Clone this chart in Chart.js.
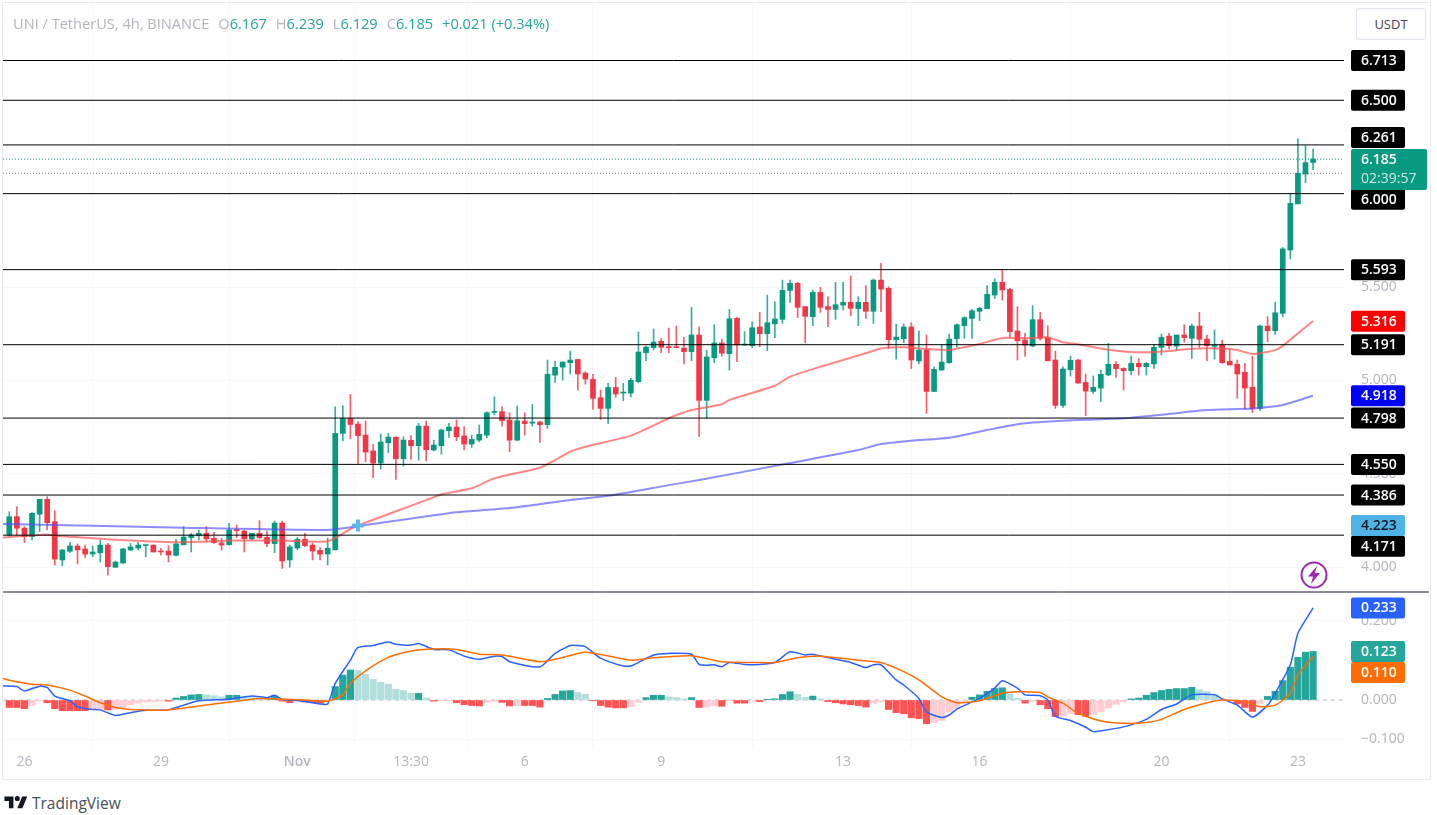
<!DOCTYPE html>
<html lang="en">
<head>
<meta charset="UTF-8">
<title>UNI / TetherUS</title>
<script src="https://cdn.jsdelivr.net/npm/chart.js@4"></script>
<style>
    html, body { margin: 0; padding: 0; background: #fff; }
    body { width: 1437px; height: 815px; overflow: hidden; position: relative; font-family: "Open Sans", sans-serif; }
    canvas { position: absolute; left: 0; }
    #frame { position: absolute; left: 2px; top: 2px; width: 1429px; height: 778px; border: 1px solid #e8eaf2; box-sizing: border-box; }
    #divider { position: absolute; left: 3px; top: 591px; width: 1426px; height: 2px; background: #8a8d96; }
    #legend { position: absolute; left: 13px; top: 13px; font-size: 14.6px; line-height: 20px; color: #b2b5be; white-space: nowrap; }
    #legend b { font-weight: 400; color: #26a69a; }
    #legend span { margin-left: 9px; }
    #currency { position: absolute; left: 1356px; top: 8px; width: 70px; height: 32px; line-height: 30px; box-sizing: border-box;
        border: 1px solid #e0e3eb; border-radius: 4px; text-align: center; font-size: 13px; color: #434651; background: #fff; }
    #bolt { position: absolute; left: 1300px; top: 561px; }
    #logo { position: absolute; left: 3px; top: 794px; }
    #brand { position: absolute; left: 32px; top: 792px; font-size: 15.5px; line-height: 22px; color: #4a4e59; }
</style>
</head>
<body>
<div id="frame"></div>
<canvas id="priceChart" width="1437" height="592" style="top:0"></canvas>
<canvas id="macdChart" width="1437" height="188" style="top:592px"></canvas>
<div id="divider"></div>
<div id="legend">UNI / TetherUS, 4h, BINANCE<span>O<b>6.167</b></span><span>H<b>6.239</b></span><span>L<b>6.129</b></span><span>C<b>6.185</b></span><span><b>+0.021 (+0.34%)</b></span></div>
<div id="currency">USDT</div>
<svg id="bolt" width="28" height="28" viewBox="0 0 28 28"><circle cx="14" cy="14" r="12.5" fill="#fff" stroke="#9c27b0" stroke-width="2"/><path d="M17 5 8 15.5h5l-2 7.5 9-11h-5z" fill="#9c27b0"/></svg>
<svg id="logo" width="26" height="18" viewBox="0 0 36 28"><path d="M14 22H7V11H0V4h14v18zM28 22h-8l7.5-18h8L28 22z" fill="#131722"/><circle cx="20" cy="7" r="4" fill="#131722"/></svg>
<div id="brand">TradingView</div>

<script>
// 4h candles, bar 0 is the leftmost full candle
const opens = [
    4.172,4.270,4.209,4.163,4.283,4.363,4.243,4.038,4.085,4.113,4.097,4.070,4.077,4.118,3.999,4.022,4.092,4.102,4.115,4.118,4.085,4.086,
    4.063,4.120,4.158,4.168,4.181,4.154,4.129,4.120,4.201,4.193,4.151,4.181,4.159,4.126,4.236,4.038,4.102,4.149,4.118,4.090,4.070,4.092,
    4.716,4.796,4.766,4.707,4.622,4.557,4.666,4.696,4.580,4.679,4.650,4.755,4.627,4.650,4.730,4.750,4.702,4.659,4.680,4.707,4.829,4.832,
    4.788,4.680,4.782,4.771,4.777,4.763,5.028,5.071,5.095,5.112,5.039,5.005,4.907,4.850,4.962,4.932,4.932,4.993,5.148,5.175,5.209,
    5.179,5.179,5.173,5.154,5.243,4.893,5.121,5.200,5.143,5.332,5.189,5.186,5.286,5.250,5.303,5.327,5.482,5.520,5.395,5.341,5.471,5.395,
    5.380,5.403,5.418,5.384,5.418,5.370,5.537,5.493,5.218,5.223,5.286,5.104,5.162,4.941,5.055,5.095,5.223,5.293,
    5.332,5.370,5.384,5.457,5.525,5.487,5.264,5.216,5.184,5.325,5.230,5.109,4.866,5.057,5.109,4.989,4.941,4.959,5.029,5.086,5.064,5.052,
    5.091,5.073,5.088,5.177,5.237,5.184,5.243,5.225,5.291,5.221,5.182,5.188,5.102,5.086,5.043,4.963,4.850,5.291,5.266,5.359,5.698,5.945,6.105,6.167
];
const highs = [
    4.297,4.324,4.217,4.292,4.363,4.377,4.302,4.095,4.133,4.124,4.118,4.113,4.145,4.127,4.033,4.101,4.127,4.133,4.118,4.118,4.101,4.115,
    4.149,4.217,4.181,4.199,4.217,4.186,4.154,4.234,4.226,4.199,4.181,4.249,4.193,4.247,4.247,4.118,4.158,4.181,4.127,4.104,4.154,4.859,
    4.864,4.925,4.779,4.782,4.657,4.713,4.716,4.698,4.698,4.704,4.770,4.782,4.680,4.739,4.770,4.788,4.752,4.707,4.761,4.832,4.912,4.859,
    4.827,4.864,4.827,4.871,4.782,5.109,5.103,5.100,5.157,5.112,5.046,5.032,4.948,4.984,5.016,4.984,5.011,5.259,5.184,5.275,5.225,
    5.280,5.291,5.230,5.391,5.287,5.162,5.298,5.220,5.380,5.337,5.261,5.314,5.364,5.457,5.421,5.537,5.537,5.525,5.395,5.484,5.498,5.448,
    5.525,5.525,5.559,5.448,5.507,5.543,5.627,5.502,5.302,5.302,5.309,5.264,5.243,5.073,5.193,5.248,5.302,5.341,
    5.380,5.391,5.507,5.543,5.594,5.493,5.395,5.252,5.400,5.364,5.293,5.157,5.073,5.130,5.113,5.034,5.023,5.055,5.198,5.100,5.068,5.130,
    5.118,5.096,5.193,5.248,5.252,5.243,5.298,5.302,5.364,5.243,5.270,5.216,5.163,5.109,5.091,5.130,5.296,5.341,5.418,5.712,6.002,6.293,6.257,6.239
];
const lows = [
    4.167,4.172,4.131,4.145,4.190,4.199,4.011,4.006,4.077,4.017,4.052,4.056,4.027,3.958,3.999,4.020,4.088,4.092,4.056,4.081,4.065,4.027,
    4.060,4.118,4.081,4.145,4.136,4.127,4.092,4.118,4.158,4.081,4.145,4.154,4.110,4.077,3.993,3.999,4.092,4.110,4.038,4.038,4.011,4.092,
    4.677,4.688,4.552,4.564,4.479,4.525,4.613,4.470,4.541,4.577,4.573,4.568,4.622,4.605,4.695,4.677,4.627,4.641,4.671,4.693,4.814,4.755,
    4.618,4.677,4.707,4.755,4.666,4.743,4.989,5.002,5.034,4.948,4.980,4.845,4.791,4.770,4.909,4.891,4.912,4.987,5.105,5.162,5.148,
    5.148,5.175,5.088,5.105,4.698,4.797,5.095,5.130,5.055,5.100,5.189,5.175,5.180,5.159,5.229,5.305,5.418,5.336,5.202,5.293,5.364,5.287,
    5.327,5.377,5.346,5.293,5.332,5.305,5.368,5.171,5.114,5.202,5.063,5.088,4.823,4.939,5.055,5.091,5.177,5.225,
    5.225,5.320,5.384,5.439,5.430,5.230,5.109,5.130,5.180,5.216,5.105,4.850,4.855,5.023,4.984,4.811,4.930,4.886,5.025,5.016,4.948,5.029,
    5.029,5.029,5.064,5.136,5.168,5.159,5.205,5.118,5.177,5.105,5.114,5.091,5.082,4.904,4.845,4.827,4.838,5.207,5.246,5.341,5.650,5.945,6.059,6.129
];
const closes = [
    4.270,4.208,4.163,4.288,4.363,4.238,4.043,4.092,4.113,4.092,4.070,4.081,4.118,4.002,4.027,4.097,4.108,4.118,4.118,4.081,4.081,4.065,
    4.124,4.161,4.172,4.181,4.151,4.131,4.118,4.199,4.195,4.152,4.181,4.158,4.126,4.236,4.033,4.108,4.149,4.115,4.086,4.070,4.101,4.716,
    4.796,4.764,4.704,4.616,4.557,4.670,4.696,4.580,4.680,4.650,4.755,4.629,4.654,4.734,4.750,4.698,4.659,4.684,4.711,4.827,4.832,4.784,
    4.680,4.784,4.768,4.775,4.763,5.032,5.070,5.098,5.109,5.034,5.007,4.904,4.850,4.962,4.927,4.936,5.000,5.152,5.178,5.205,5.177,
    5.175,5.175,5.154,5.243,4.893,5.125,5.200,5.146,5.330,5.189,5.193,5.282,5.250,5.309,5.329,5.482,5.520,5.391,5.343,5.471,5.391,5.380,
    5.405,5.418,5.386,5.418,5.370,5.537,5.489,5.218,5.232,5.286,5.109,5.162,4.941,5.059,5.098,5.221,5.298,5.336,
    5.373,5.386,5.461,5.525,5.484,5.261,5.212,5.189,5.325,5.225,5.105,4.866,5.061,5.107,4.986,4.943,4.963,5.032,5.086,5.063,5.052,5.091,
    5.073,5.091,5.177,5.230,5.186,5.243,5.229,5.291,5.220,5.186,5.186,5.095,5.082,5.034,4.959,4.848,5.291,5.266,5.362,5.704,5.948,6.109,6.166,6.185
];

// moving averages, read at the bars where the line visibly bends
const ma50Bars = [-1,5,6,13,22,30,36,42,45,46,55,57,61,64,70,72,74,76,82,87,90,94,95,101,103,107,113,115,118,121,124,125,128,131,134,137,139,141,144,147,150,153,156,160,162,164,167,168,170,172];
const ma50Values = [4.158,4.175,4.168,4.149,4.133,4.142,4.142,4.138,4.204,4.223,4.359,4.389,4.422,4.475,4.532,4.573,4.618,4.645,4.704,4.797,4.841,4.872,4.895,4.971,5.020,5.073,5.145,5.171,5.177,5.168,5.162,5.170,5.195,5.227,5.225,5.230,5.204,5.193,5.171,5.155,5.150,5.157,5.170,5.171,5.163,5.141,5.162,5.185,5.252,5.318];
const ma200Bars = [-1,23,42,45,58,66,74,79,87,91,103,112,115,119,124,129,134,143,147,153,158,164,168,172];
const ma200Values = [4.231,4.211,4.199,4.213,4.289,4.316,4.359,4.382,4.439,4.466,4.557,4.627,4.659,4.677,4.693,4.734,4.770,4.791,4.797,4.820,4.841,4.850,4.868,4.918];
const crossBar = 46;
const crossValue = 4.223;

// horizontal levels and last values
const levelValues = [6.713,6.5,6.261,6.0,5.593,5.191,4.798,4.55,4.386,4.171];
const lastPrice = 6.185;
const prevClose = 6.109;
const ma50Last = 5.316;
const ma200Last = 4.918;
const priceTicks = [6.5,6.0,5.5,5.0,4.5,4.0];

// MACD pane
const histogram = [
    -.019,-.019,-.022,-.014,-.003,-.007,-.022,-.027,-.027,-.027,-.027,-.024,-.023,-.025,-.024,-.019,-.012,-.008,-.005,-.004,-.003,-.003,
    .005,.009,.013,.014,.013,.011,.008,.012,.012,.007,.006,.005,.004,.010,-.003,-.007,-.003,-.005,-.007,-.008,-.003,
    .034,.063,.076,.075,.065,.052,.045,.040,.027,.024,.017,.017,.005,-.003,-.002,-.001,-.007,-.012,-.014,
    -.015,-.006,-.003,-.006,-.015,-.014,-.014,-.014,-.018,.004,.014,.023,.024,.019,.014,-.002,-.014,-.018,-.020,-.020,-.017,-.006,
    .006,.012,.012,.008,.006,.003,.006,-.019,-.018,-.015,-.016,-.002,-.008,-.008,-.003,-.004,.002,.003,.014,.021,.014,.007,.010,.003,
    -.004,-.007,-.010,-.012,-.014,-.018,-.008,-.005,-.024,-.032,-.035,-.045,-.047,-.060,-.057,-.052,-.030,-.021,-.003,
    .007,.013,.022,.029,.031,.016,.004,-.008,-.003,-.012,-.022,-.042,-.041,-.034,-.037,-.041,-.038,-.030,-.020,-.011,-.005,
    .003,.005,.012,.019,.024,.027,.029,.029,.032,.026,.021,.010,.003,-.002,-.010,-.019,-.029,-.010,.009,.022,.049,.083,.108,.121,.123
];
const macdBars = [-1,1,2,4,5,6,8,9,11,12,14,16,18,21,23,25,29,32,34,35,36,38,41,42,43,45,46,48,50,51,53,54,56,58,60,62,64,65,66,70,72,74,75,76,78,81,82,85,87,90,91,92,93,94,95,97,99,101,103,105,106,109,111,113,114,115,117,118,120,121,123,124,125,128,130,131,133,134,136,137,138,140,142,143,144,147,150,152,154,156,159,160,162,164,166,167,169,170,172];
const macdValues = [.036,.034,.023,.035,.032,.010,-.002,-.017,-.024,-.025,-.039,-.032,-.026,-.025,-.013,-.002,.002,.010,.006,.012,.002,-.001,-.010,-.010,.042,.101,.133,.138,.147,.141,.139,.143,.128,.127,.111,.103,.111,.110,.097,.084,.118,.138,.138,.135,.106,.086,.086,.114,.118,.116,.090,.088,.089,.084,.095,.090,.090,.095,.122,.114,.116,.103,.095,.082,.089,.089,.051,.038,.004,-.030,-.044,-.038,-.023,.004,.030,.049,.030,.013,.011,0,-.041,-.052,-.069,-.080,-.078,-.068,-.049,-.024,-.010,.013,.013,.003,-.013,-.043,-.013,.017,.089,.169,.233];
const signalBars = [-1,1,3,5,8,10,12,14,16,21,25,30,33,36,39,42,44,45,47,50,53,56,59,62,65,70,72,76,82,85,90,94,99,101,104,107,113,115,118,120,123,125,128,131,133,136,137,139,141,144,147,150,152,155,158,160,163,165,167,169,170,172];
const signalValues = [.055,.046,.040,.038,.025,.010,-.007,-.019,-.024,-.025,-.015,-.003,.004,.002,0,-.003,.013,.042,.074,.108,.124,.129,.128,.116,.114,.097,.103,.121,.101,.107,.112,.097,.095,.095,.107,.111,.099,.095,.072,.051,.008,-.007,-.002,.017,.021,.019,.008,-.008,-.034,-.053,-.059,-.057,-.049,-.024,-.007,0,-.004,-.017,-.013,.017,.063,.110];
const macdTicks = [.2,0,-.1];
const macdLast = .233;
const histLast = .123;
const signalLast = .110;

// time axis
const timeTickBars = [2,20,38,53,68,86,110,128,152,170];
const timeTickLabels = ['26','29','Nov','13:30','6','9','13','16','20','23'];

// colours and small layout numbers
const UP = '#089981', DOWN = '#f23645';
const GREY = '#b2b5be';
const FONT = '"Open Sans", sans-serif';
const xMin = -0.831, xMax = 176.08;     // left / right edge of the panes in bars
const AXIS_W = 93;

function barPairs(lo, hi) {
    return lo.map((v, i) => ({x: i, y: [v, hi[i]]}));
}
function xyPairs(xs, ys) {
    return xs.map((x, i) => ({x: x, y: ys[i]}));
}
function flatLine(v) {
    return [{x: xMin, y: v}, {x: xMax, y: v}];
}
// chart.js reserves room for half a tick label at the ends, the panes here go edge to edge
function noScalePadding(scale) {
    scale.paddingLeft = scale.paddingRight = scale.paddingTop = scale.paddingBottom = 0;
}

const candleColors = closes.map((c, i) => c >= opens[i] ? UP : DOWN);
const wickColors = closes.map((c, i) => c >= opens[i] ? 'rgba(8,153,129,.8)' : 'rgba(242,54,69,.8)');
const bodyLow = opens.map((o, i) => Math.min(o, closes[i]));
const bodyHigh = opens.map((o, i) => Math.max(o, closes[i]));

const histColors = histogram.map((v, i) => {
    const prev = i > 0 ? histogram[i - 1] : v;
    if (v >= 0) return v >= prev ? '#26a69a' : '#b2dfdb';
    return v <= prev ? '#ff5252' : '#ffcdd2';
});

// right hand price tags, drawn over the tick labels
function tagPlugin(tags, yScaleId) {
    return {
        id: 'tags',
        afterDraw(chart) {
            const ctx = chart.ctx, scale = chart.scales[yScaleId];
            ctx.save();
            ctx.textBaseline = 'middle';
            tags.forEach(t => {
                const y = scale.getPixelForValue(t.value) + (t.shift || 0);
                const h = t.sub ? 41 : 21, w = t.sub ? 76 : 54;
                const top = t.sub ? y - 10 : y - h / 2;
                ctx.fillStyle = t.bg;
                ctx.beginPath();
                ctx.roundRect(1351, top, w, h, 2);
                ctx.fill();
                ctx.fillStyle = t.fg || '#fff';
                ctx.font = '600 14px ' + FONT;
                ctx.fillText(t.value.toFixed(3), 1361, t.sub ? top + 11 : y + 0.5);
                if (t.sub) {
                    ctx.font = '14px ' + FONT;
                    ctx.fillStyle = 'rgba(255,255,255,.8)';
                    ctx.fillText(t.sub, 1361, top + 30);
                }
            });
            ctx.restore();
        }
    };
}

function candleDatasets() {
    const sets = [];
    levelValues.forEach(v => {
        sets.push({type: 'line', data: flatLine(v), borderColor: '#000', borderWidth: 1, pointRadius: 0, order: 1});
    });
    sets.push({type: 'line', data: flatLine(lastPrice), borderColor: UP, borderWidth: 1, borderDash: [1, 2], pointRadius: 0, order: 6});
    sets.push({type: 'line', data: flatLine(prevClose), borderColor: '#787b86', borderWidth: 1, borderDash: [1, 2], pointRadius: 0, order: 6});
    sets.push({type: 'line', data: xyPairs(ma200Bars, ma200Values), borderColor: 'rgba(80,80,255,.65)', borderWidth: 2, pointRadius: 0, tension: 0.2, order: 2});
    sets.push({type: 'line', data: xyPairs(ma50Bars, ma50Values), borderColor: 'rgba(255,82,82,.7)', borderWidth: 2, pointRadius: 0, tension: 0.2, order: 2});
    sets.push({type: 'line', data: [{x: crossBar, y: crossValue}], showLine: false, pointStyle: 'cross', pointRadius: 6, pointBorderWidth: 4,
        pointBorderColor: '#5fb8ea', order: 0});
    sets.push({type: 'bar', data: barPairs(lows, highs), backgroundColor: wickColors, barThickness: 1, grouped: false, order: 5});
    sets.push({type: 'bar', data: barPairs(bodyLow, bodyHigh), backgroundColor: candleColors, barThickness: 5, minBarLength: 1, grouped: false, order: 4});
    return sets;
}

const baseOptions = {
    responsive: false,
    animation: false,
    events: [],
    plugins: {legend: {display: false}, tooltip: {enabled: false}}
};

new Chart(document.getElementById('priceChart'), {
    type: 'bar',
    data: {datasets: candleDatasets()},
    plugins: [tagPlugin([
        {value: 6.713}, {value: 6.5}, {value: 6.261, shift: -7.5}, {value: 6.0, shift: 5.5}, {value: 5.593},
        {value: 5.191}, {value: 4.798}, {value: 4.55}, {value: 4.386}, {value: 4.171, shift: 11},
        {value: lastPrice, bg: UP, sub: '02:39:57'},
        {value: ma50Last, bg: '#ff0000'},
        {value: ma200Last, bg: '#0000ff'},
        {value: crossValue, bg: '#4fb3e8', fg: '#131722'}
    ].map(t => Object.assign({bg: '#000'}, t)), 'y')],
    options: Object.assign({}, baseOptions, {
        layout: {autoPadding: false, padding: {left: 3, top: 3, right: 0, bottom: 1}},
        scales: {
            x: {
                type: 'linear', min: xMin, max: xMax, offset: false,
                afterBuildTicks(scale) { scale.ticks = timeTickBars.map(v => ({value: v})); },
                afterFit(scale) { scale.height = 0; noScalePadding(scale); },
                ticks: {display: false},
                grid: {color: '#f7f8fb', drawTicks: false},
                border: {display: false}
            },
            y: {
                position: 'right', min: 3.872, max: 7.021,
                afterBuildTicks(scale) { scale.ticks = priceTicks.map(v => ({value: v})); },
                afterFit(scale) { scale.width = AXIS_W; noScalePadding(scale); },
                ticks: {color: GREY, font: {family: FONT, size: 14}, padding: 17, callback: v => v.toFixed(3)},
                grid: {color: '#f7f8fb', drawTicks: false},
                border: {display: false}
            }
        }
    })
});

new Chart(document.getElementById('macdChart'), {
    type: 'bar',
    data: {datasets: [
        {type: 'line', data: xyPairs(macdBars, macdValues), borderColor: '#2962ff', borderWidth: 1.5, pointRadius: 0, tension: 0.2, order: 1},
        {type: 'line', data: xyPairs(signalBars, signalValues), borderColor: '#ff6d00', borderWidth: 1.5, pointRadius: 0, tension: 0.2, order: 0},
        {type: 'line', data: flatLine(0), borderColor: 'rgba(120,123,134,.5)', borderWidth: 1, borderDash: [4, 4], pointRadius: 0, order: 3},
        {type: 'bar', data: histogram.map((v, i) => ({x: i, y: v})), backgroundColor: histColors, barThickness: 6.5, grouped: false, order: 2}
    ]},
    plugins: [tagPlugin([
        {value: macdLast, bg: '#2962ff'},
        {value: histLast, bg: '#26a69a'},
        {value: signalLast, bg: '#ff6d00', shift: 16}
    ], 'y')],
    options: Object.assign({}, baseOptions, {
        layout: {autoPadding: false, padding: {left: 3, top: 0, right: 0, bottom: 0}},
        scales: {
            x: {
                type: 'linear', min: xMin, max: xMax, offset: false,
                afterBuildTicks(scale) { scale.ticks = timeTickBars.map(v => ({value: v})); },
                afterFit(scale) { scale.height = 32; noScalePadding(scale); },
                ticks: {
                    color: GREY, autoSkip: false, maxRotation: 0, padding: 6,
                    font: ctx => ({family: FONT, size: 14, weight: ctx.tick && ctx.tick.value === 38 ? '600' : '400'}),
                    callback: v => timeTickLabels[timeTickBars.indexOf(v)]
                },
                grid: {color: '#f7f8fb', drawTicks: false},
                border: {display: false}
            },
            y: {
                position: 'right', min: -0.1215, max: 0.2734,
                afterBuildTicks(scale) { scale.ticks = macdTicks.map(v => ({value: v})); },
                afterFit(scale) { scale.width = AXIS_W; noScalePadding(scale); },
                ticks: {color: GREY, font: {family: FONT, size: 14}, padding: 17,
                    callback: v => (v < 0 ? '\u2212' : '') + Math.abs(v).toFixed(3)},
                grid: {color: '#f7f8fb', drawTicks: false},
                border: {display: false}
            }
        }
    })
});
</script>
</body>
</html>
